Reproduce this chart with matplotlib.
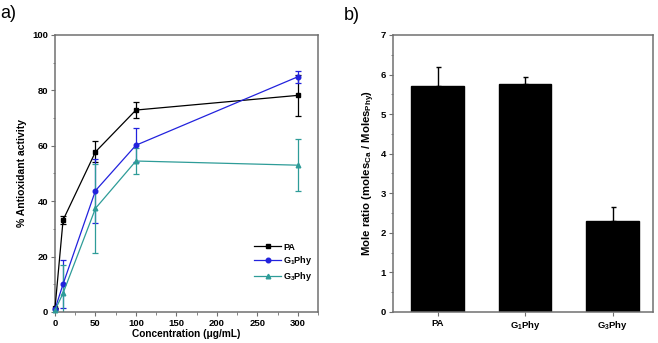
import matplotlib
matplotlib.use("Agg")
import matplotlib.pyplot as plt
from matplotlib.ticker import MultipleLocator

plt.rcParams["font.family"] = ["Liberation Sans", "DejaVu Sans"]
plt.rcParams["font.weight"] = "bold"
plt.rcParams["mathtext.default"] = "regular"

# panel a) antioxidant activity
conc = [0, 10, 50, 100, 300]
pa_act = [1.4, 33.2, 57.8, 72.9, 78.2]
pa_err = [0.0, 1.6, 3.8, 2.9, 7.3]
g1_act = [1.0, 10.1, 43.8, 60.2, 84.9]
g1_err = [0.0, 8.7, 11.5, 6.1, 2.2]
g3_act = [0.6, 6.8, 37.4, 54.5, 53.0]
g3_err = [0.0, 10.0, 16.0, 4.7, 9.3]

# panel b) mole ratio
samples = ["PA", "G$_1$Phy", "G$_3$Phy"]
ratio = [5.70, 5.77, 2.30]
ratio_err = [0.50, 0.16, 0.35]

black = "#000000"
blue = "#2222dd"
teal = "#2e9c98"
spine_col = "#707070"

fig = plt.figure(figsize=(6.58, 3.43), dpi=100)
ax1 = fig.add_axes([55 / 658, 0.0904, 263 / 658, 0.8076])
ax2 = fig.add_axes([393 / 658, 0.0904, 260 / 658, 0.8076])

series = [
    (pa_act, pa_err, black, "s", "PA"),
    (g1_act, g1_err, blue, "o", "G$_1$Phy"),
    (g3_act, g3_err, teal, "^", "G$_3$Phy"),
]
handles = []
for vals, errs, col, mk, lab in series:
    ax1.errorbar(conc, vals, yerr=errs, fmt="none", ecolor=col,
                 elinewidth=0.9, capsize=2, capthick=0.9, zorder=2)
    ln, = ax1.plot(conc, vals, color=col, marker=mk, markersize=3.3,
                   linewidth=0.9, label=lab, clip_on=False, zorder=3)
    handles.append(ln)

ax1.set_xlim(0, 325)
ax1.set_ylim(0, 100)
ax1.xaxis.set_major_locator(MultipleLocator(50))
ax1.xaxis.set_minor_locator(MultipleLocator(25))
ax1.yaxis.set_major_locator(MultipleLocator(20))
ax1.yaxis.set_minor_locator(MultipleLocator(10))
ax1.set_xlabel("Concentration (\u03bcg/mL)", fontsize=7.3, fontweight="bold", labelpad=1)
ax1.set_ylabel("% Antioxidant activity", fontsize=7.5, fontweight="bold", labelpad=4)
ax1.legend(handles=handles, loc="lower right", bbox_to_anchor=(1.0, 0.085),
           borderaxespad=0.2, frameon=False, fontsize=6.5, handlelength=3.0,
           handletextpad=0.2, labelspacing=0.3)

ax2.bar(range(len(samples)), ratio, width=0.6, color=black, edgecolor=black,
        yerr=[[0] * len(ratio), ratio_err], capsize=1.8,
        error_kw=dict(elinewidth=1.0, capthick=1.0, ecolor=black))
ax2.set_xlim(-0.51, 2.46)
ax2.set_ylim(0, 7)
ax2.set_xticks(range(len(samples)))
ax2.set_xticklabels(samples)
ax2.yaxis.set_major_locator(MultipleLocator(1))
ax2.yaxis.set_minor_locator(MultipleLocator(0.5))
ax2.set_ylabel("Mole ratio (moles$_{Ca}$ / Moles$_{Phy}$)", fontsize=8.2,
               fontweight="bold", labelpad=3)

for ax in (ax1, ax2):
    for sp in ax.spines.values():
        sp.set_color(spine_col)
        sp.set_linewidth(1.1)
    ax.tick_params(which="major", direction="out", length=3, width=0.8,
                   color=spine_col, labelsize=6.8, pad=2)
    ax.tick_params(which="minor", direction="out", length=1.8, width=0.6,
                   color=spine_col)
    for t in ax.get_xticklabels() + ax.get_yticklabels():
        t.set_fontweight("bold")

fig.text(0.0, 0.985, "a)", fontsize=13, fontweight="normal", va="top")
fig.text(0.522, 0.98, "b)", fontsize=13, fontweight="normal", va="top")

fig.savefig("out.png", dpi=100)
